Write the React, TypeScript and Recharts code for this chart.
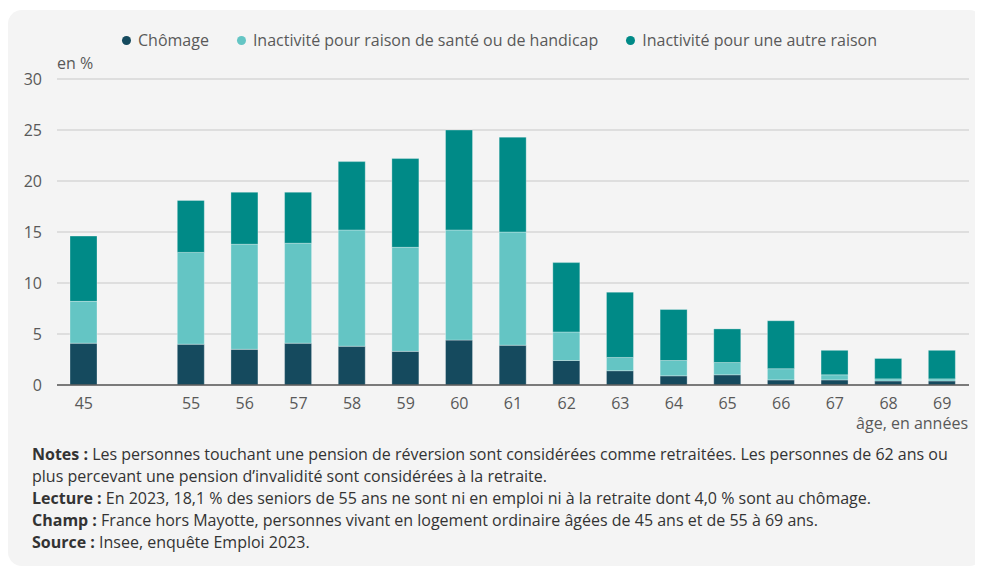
import { BarChart, Bar, XAxis, YAxis, CartesianGrid } from "recharts";

const ages = ["45", "", "55", "56", "57", "58", "59", "60", "61", "62", "63", "64", "65", "66", "67", "68", "69"];
const chomage = [4.1, null, 4.0, 3.5, 4.1, 3.8, 3.3, 4.4, 3.9, 2.4, 1.4, 0.9, 1.0, 0.5, 0.5, 0.4, 0.4];
const sante = [4.1, null, 9.0, 10.3, 9.8, 11.4, 10.2, 10.8, 11.1, 2.8, 1.3, 1.5, 1.2, 1.1, 0.5, 0.2, 0.2];
const autre = [6.4, null, 5.1, 5.1, 5.0, 6.7, 8.7, 9.8, 9.3, 6.8, 6.4, 5.0, 3.3, 4.7, 2.4, 2.0, 2.8];
const yTicks = [0, 5, 10, 15, 20, 25, 30];

const series = [
  { key: "chomage", name: "Chômage", color: "#154a5e" },
  { key: "sante", name: "Inactivité pour raison de santé ou de handicap", color: "#64c5c4" },
  { key: "autre", name: "Inactivité pour une autre raison", color: "#008a87" },
];

const data = ages.map((age, i) => ({
  age,
  chomage: chomage[i],
  sante: sante[i],
  autre: autre[i],
}));

const FONT = "'Open Sans', sans-serif";
const TEXT = "#595959";

const App = () => {
  return (
    <div
      style={{
        position: "relative",
        marginTop: 2,
        width: 975,
        height: 556,
        background: "#f4f4f4",
        borderRadius: 14,
        fontFamily: FONT,
        overflow: "hidden",
      }}
    >
      <style>{`body{overflow:hidden}`}</style>

      {/* Legend */}
      <div
        style={{
          position: "absolute",
          top: 20,
          left: 0,
          width: "100%",
          display: "flex",
          justifyContent: "center",
          paddingLeft: 8,
          boxSizing: "border-box",
          gap: 28,
          fontSize: 16,
          color: TEXT,
          lineHeight: "20px",
        }}
      >
        {series.map((s) => (
          <div key={s.key} style={{ display: "flex", alignItems: "center" }}>
            <span
              style={{
                display: "inline-block",
                width: 9,
                height: 9,
                borderRadius: "50%",
                background: s.color,
                marginRight: 7,
              }}
            />
            {s.name}
          </div>
        ))}
      </div>

      <div style={{ position: "absolute", left: 49, top: 42, fontSize: 16, color: TEXT }}>en %</div>

      <div style={{ position: "absolute", top: 0, left: 0 }}>
        <BarChart
          width={975}
          height={430}
          data={data}
          margin={{ top: 69, right: 14, bottom: 25, left: 9 }}
        >
          <CartesianGrid vertical={false} stroke="#c8c8c8" strokeWidth={1} />
          <XAxis
            dataKey="age"
            tickLine={false}
            axisLine={{ stroke: "#595959", strokeWidth: 1.5 }}
            tick={{ fill: TEXT, fontSize: 16, fontFamily: FONT }}
            tickMargin={7}
            interval={0}
            height={30}
          />
          <YAxis
            domain={[0, 30]}
            ticks={yTicks}
            axisLine={false}
            tickLine={false}
            width={40}
            tickMargin={9}
            tick={{ fill: TEXT, fontSize: 16, fontFamily: FONT }}
          />
          {series.map((s) => (
            <Bar
              key={s.key}
              dataKey={s.key}
              name={s.name}
              stackId="a"
              fill={s.color}
              barSize={27}
              stroke="#ffffff"
              strokeOpacity={0.5}
              strokeWidth={0.6}
              isAnimationActive={false}
            />
          ))}
        </BarChart>
      </div>

      <div
        style={{
          position: "absolute",
          right: 15,
          top: 405,
          fontSize: 16,
          lineHeight: "17px",
          color: TEXT,
        }}
      >
        âge, en années
      </div>

      {/* Notes */}
      <div
        style={{
          position: "absolute",
          left: 24,
          top: 433,
          width: 925,
          fontSize: 16,
          lineHeight: "22px",
          color: "#333333",
        }}
      >
        <div>
          <b>Notes :</b> Les personnes touchant une pension de réversion sont considérées comme retraitées. Les
          personnes de 62 ans ou plus percevant une pension d’invalidité sont considérées à la retraite.
        </div>
        <div>
          <b>Lecture :</b> En 2023, 18,1 % des seniors de 55 ans ne sont ni en emploi ni à la retraite dont 4,0 % sont
          au chômage.
        </div>
        <div>
          <b>Champ :</b> France hors Mayotte, personnes vivant en logement ordinaire âgées de 45 ans et de 55 à 69 ans.
        </div>
        <div>
          <b>Source :</b> Insee, enquête Emploi 2023.
        </div>
      </div>
    </div>
  );
};

export default App;
